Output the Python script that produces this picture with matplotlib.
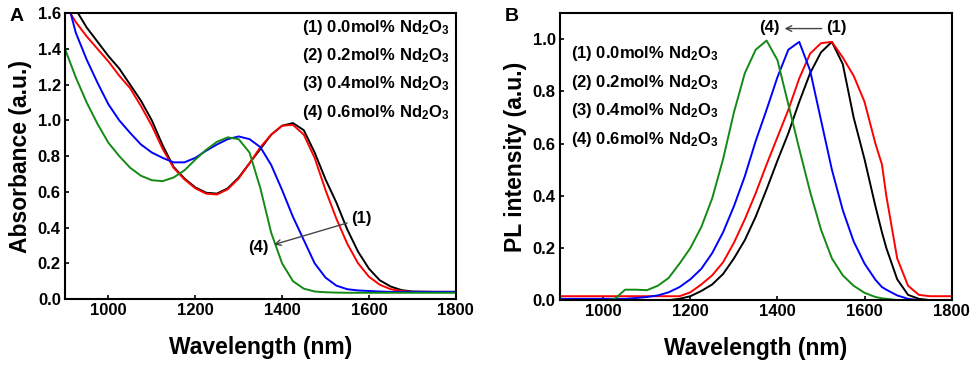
import matplotlib
matplotlib.use('Agg')
import matplotlib.pyplot as plt

plt.rcParams['font.family'] = ['Liberation Sans', 'DejaVu Sans']
plt.rcParams['font.weight'] = 'bold'
plt.rcParams['mathtext.fontset'] = 'custom'
plt.rcParams['mathtext.bf'] = 'Liberation Sans:bold'
plt.rcParams['mathtext.rm'] = 'Liberation Sans:bold'
plt.rcParams['mathtext.default'] = 'bf'

# --- panel A: absorbance ---
wl_abs = [900, 925, 950, 975, 1000, 1025, 1050, 1075, 1100, 1125, 1150, 1175,
          1200, 1225, 1250, 1275, 1300, 1325, 1350, 1375, 1400, 1425, 1450,
          1475, 1500, 1525, 1550, 1575, 1600, 1625, 1650, 1675, 1700, 1750, 1800]
abs_00 = [1.72, 1.62, 1.52, 1.44, 1.36, 1.29, 1.20, 1.11, 1.00, 0.86, 0.74, 0.675,
          0.625, 0.595, 0.59, 0.62, 0.68, 0.76, 0.84, 0.92, 0.97, 0.985, 0.945,
          0.82, 0.67, 0.54, 0.39, 0.265, 0.17, 0.105, 0.07, 0.05, 0.042, 0.04, 0.04]
abs_02 = [1.65, 1.55, 1.47, 1.40, 1.33, 1.25, 1.18, 1.08, 0.97, 0.84, 0.735, 0.67,
          0.62, 0.59, 0.585, 0.615, 0.675, 0.76, 0.85, 0.92, 0.97, 0.975, 0.92,
          0.79, 0.61, 0.45, 0.31, 0.20, 0.125, 0.08, 0.055, 0.045, 0.04, 0.04, 0.04]
abs_04 = [1.72, 1.49, 1.34, 1.21, 1.09, 1.00, 0.93, 0.865, 0.82, 0.79, 0.765, 0.765,
          0.79, 0.83, 0.865, 0.895, 0.91, 0.895, 0.85, 0.75, 0.61, 0.46, 0.33,
          0.20, 0.12, 0.075, 0.055, 0.048, 0.045, 0.042, 0.04, 0.04, 0.04, 0.04, 0.04]
abs_06 = [1.40, 1.24, 1.10, 0.98, 0.875, 0.80, 0.735, 0.69, 0.665, 0.66, 0.68, 0.72,
          0.78, 0.835, 0.88, 0.905, 0.895, 0.82, 0.62, 0.37, 0.20, 0.10, 0.058,
          0.042, 0.038, 0.036, 0.035, 0.035, 0.035, 0.035, 0.035, 0.035, 0.035, 0.035, 0.035]

# --- panel B: PL ---
wl_pl = [900, 950, 1000, 1025, 1050, 1075, 1100, 1125, 1150, 1175, 1200, 1225,
         1250, 1275, 1300, 1325, 1350, 1375, 1400, 1425, 1450, 1475, 1500, 1525,
         1550, 1575, 1600, 1625, 1640, 1650, 1675, 1700, 1725, 1750, 1800]
pl_00 = [0.0, 0.0, 0.0, 0.0, 0.0, 0.0, 0.0, 0.0, 0.0, 0.005, 0.015, 0.035,
         0.06, 0.10, 0.16, 0.23, 0.32, 0.425, 0.535, 0.64, 0.76, 0.87, 0.95, 0.99,
         0.905, 0.70, 0.54, 0.36, 0.26, 0.20, 0.08, 0.02, 0.005, 0.0, 0.0]
pl_02 = [0.015, 0.015, 0.015, 0.015, 0.015, 0.015, 0.015, 0.015, 0.015, 0.015, 0.03, 0.06,
         0.095, 0.145, 0.22, 0.31, 0.41, 0.52, 0.625, 0.73, 0.85, 0.945, 0.985, 0.99,
         0.93, 0.86, 0.76, 0.60, 0.52, 0.40, 0.16, 0.055, 0.02, 0.015, 0.015]
pl_04 = [0.005, 0.005, 0.005, 0.005, 0.005, 0.008, 0.012, 0.018, 0.03, 0.05, 0.08, 0.12,
         0.18, 0.26, 0.36, 0.475, 0.61, 0.73, 0.855, 0.96, 0.99, 0.88, 0.69, 0.50,
         0.345, 0.225, 0.14, 0.078, 0.05, 0.04, 0.018, 0.005, 0.0, 0.0, 0.0]
pl_06 = [0.0, 0.0, 0.0, 0.003, 0.04, 0.04, 0.038, 0.055, 0.085, 0.14, 0.20, 0.28,
         0.39, 0.54, 0.72, 0.87, 0.96, 0.995, 0.92, 0.75, 0.58, 0.415, 0.27, 0.16,
         0.095, 0.055, 0.028, 0.012, 0.007, 0.005, 0.0, 0.0, 0.0, 0.0, 0.0]

labels = [r'(1) 0.0mol% Nd$_{2}$O$_{3}$', r'(2) 0.2mol% Nd$_{2}$O$_{3}$',
          r'(3) 0.4mol% Nd$_{2}$O$_{3}$', r'(4) 0.6mol% Nd$_{2}$O$_{3}$']
colors = ['black', '#ff0000', '#0000ff', '#138a13']

fig = plt.figure(figsize=(9.77, 3.66), dpi=100)
axA = fig.add_axes([0.0665, 0.183, 0.400, 0.781])
axB = fig.add_axes([0.573, 0.180, 0.401, 0.784])

for y, c in zip([abs_00, abs_02, abs_04, abs_06], colors):
    axA.plot(wl_abs, y, color=c, lw=1.4)
for y, c in zip([pl_00, pl_02, pl_04, pl_06], colors):
    axB.plot(wl_pl, y, color=c, lw=1.4)

axA.set_xlim(900, 1800)
axA.set_ylim(0, 1.6)
axA.set_yticks([0.0, 0.2, 0.4, 0.6, 0.8, 1.0, 1.2, 1.4, 1.6])
axA.set_ylabel('Absorbance (a.u.)', fontsize=16.5, fontweight='bold', labelpad=4)

axB.set_xlim(900, 1800)
axB.set_ylim(0, 1.1)
axB.set_yticks([0.0, 0.2, 0.4, 0.6, 0.8, 1.0])
axB.set_ylabel('PL intensity (a.u.)', fontsize=16.5, fontweight='bold', labelpad=4)

for ax in (axA, axB):
    ax.set_xticks([1000, 1200, 1400, 1600, 1800])
    ax.yaxis.set_major_formatter(matplotlib.ticker.FormatStrFormatter('%.1f'))
    ax.set_xlabel('Wavelength (nm)', fontsize=16.5, fontweight='bold', labelpad=13)
    ax.tick_params(direction='in', length=3, width=1.2, labelsize=12, pad=3)
    for s in ax.spines.values():
        s.set_linewidth(1.5)

# legend texts
ya = [0.951, 0.853, 0.755, 0.654]
for lab, y in zip(labels, ya):
    axA.text(0.985, y, lab, transform=axA.transAxes, ha='right', va='center',
             fontsize=12, fontweight='bold')
yb = [0.861, 0.760, 0.662, 0.561]
for lab, y in zip(labels, yb):
    axB.text(0.028, y, lab, transform=axB.transAxes, ha='left', va='center',
             fontsize=12, fontweight='bold')

# arrows
axA.annotate('', xy=(1375, 0.30), xytext=(1556, 0.43),
             arrowprops=dict(arrowstyle='->', color='#444444', lw=1))
axA.text(1558, 0.45, '(1)', ha='left', va='center', fontsize=12, fontweight='bold')
axA.text(1370, 0.29, '(4)', ha='right', va='center', fontsize=12, fontweight='bold')

axB.annotate('', xy=(1410, 1.041), xytext=(1508, 1.041),
             arrowprops=dict(arrowstyle='->', color='#444444', lw=1))
axB.text(1405, 1.045, '(4)', ha='right', va='center', fontsize=12, fontweight='bold')
axB.text(1512, 1.045, '(1)', ha='left', va='center', fontsize=12, fontweight='bold')

fig.text(0.010, 0.955, 'A', fontsize=14, fontweight='bold', va='center')
fig.text(0.517, 0.955, 'B', fontsize=14, fontweight='bold', va='center')

fig.savefig('out.png', dpi=100)
